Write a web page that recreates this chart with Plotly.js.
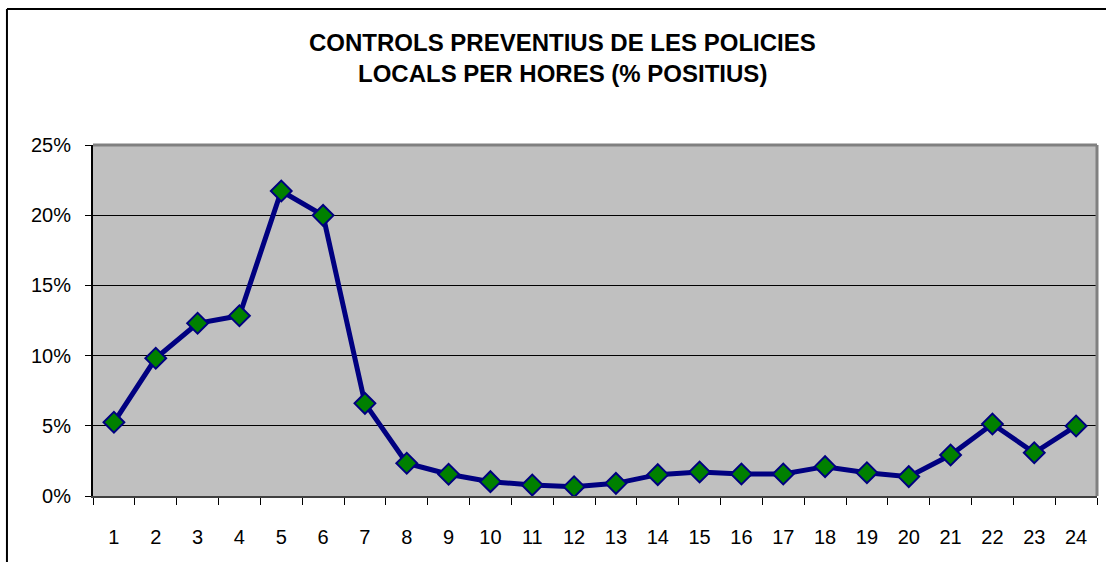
<!DOCTYPE html>
<html>
<head>
<meta charset="utf-8">
<script src="https://cdn.plot.ly/plotly-3.0.1.min.js"></script>
<style>
html,body{margin:0;padding:0;background:#fff;overflow:hidden;width:1106px;height:562px;}
#chart{width:1106px;height:562px;position:relative;}
</style>
</head>
<body>
<div id="chart"></div>
<script>
const hours = ["1","2","3","4","5","6","7","8","9","10","11","12","13","14","15","16","17","18","19","20","21","22","23","24"];
const positius = [0.0525,0.0981,0.1230,0.1284,0.2172,0.1999,0.0660,0.0233,0.0155,0.0102,0.0078,0.0066,0.0090,0.0152,0.0171,0.0157,0.0157,0.0209,0.0166,0.0138,0.0292,0.0513,0.0308,0.0499];
const titleLines = ["CONTROLS PREVENTIUS DE LES POLICIES","LOCALS PER HORES (% POSITIUS)"];
const yTicks = [0,0.05,0.10,0.15,0.20,0.25];

const trace = {
  x: hours, y: positius, type: 'scatter', mode: 'lines+markers',
  line: {color: '#000080', width: 5},
  marker: {symbol: 'diamond', size: 16, color: '#008000', line: {color: '#000080', width: 2}},
  hoverinfo: 'skip'
};

const font = 'Liberation Sans, Arial, sans-serif';
const layout = {
  width: 1106, height: 562,
  margin: {l: 93, r: 9, t: 145, b: 66},
  paper_bgcolor: '#fff',
  plot_bgcolor: '#c0c0c0',
  showlegend: false,
  font: {family: font, size: 20, color: '#000'},
  xaxis: {
    type: 'category', range: [-0.5, 23.5], tickson: 'boundaries',
    ticks: 'outside', ticklen: 7, tickwidth: 1, tickcolor: '#000',
    showline: true, linecolor: '#404040', linewidth: 2,
    showgrid: false, zeroline: false, fixedrange: true,
    ticklabelstandoff: 22,
    tickfont: {family: font, size: 20, color: '#000'}
  },
  yaxis: {
    range: [0, 0.25], tickvals: yTicks, tickformat: '.0%',
    ticks: 'outside', ticklen: 6, tickwidth: 1, tickcolor: '#000',
    showline: true, linecolor: '#000', linewidth: 2,
    showgrid: true, gridcolor: '#000', gridwidth: 1,
    zeroline: false, fixedrange: true,
    ticklabelstandoff: 10,
    tickfont: {family: font, size: 20, color: '#000'}
  },
  shapes: [
    {type: 'line', xref: 'paper', yref: 'paper', x0: 0, x1: 1, y0: 1, y1: 1, line: {color: '#808080', width: 3}},
    {type: 'line', xref: 'paper', yref: 'paper', x0: 1, x1: 1, y0: 0, y1: 1, line: {color: '#808080', width: 3}},
    {type: 'line', xref: 'paper', yref: 'paper', x0: -0.0857, x1: -0.0857, y0: -0.2, y1: 1.3875, line: {color: '#000', width: 2}},
    {type: 'line', xref: 'paper', yref: 'paper', x0: -0.0857, x1: 1.02, y0: 1.3875, y1: 1.3875, line: {color: '#000', width: 2}}
  ],
  annotations: [
    {text: '<b>' + titleLines[0] + '</b>', xref: 'paper', yref: 'paper', x: 0.468, y: 1.2906, xanchor: 'center', yanchor: 'middle', showarrow: false, font: {family: font, size: 24, color: '#000'}},
    {text: '<b>' + titleLines[1] + '</b>', xref: 'paper', yref: 'paper', x: 0.468, y: 1.2051, xanchor: 'center', yanchor: 'middle', showarrow: false, font: {family: font, size: 24, color: '#000'}}
  ]
};

Plotly.newPlot('chart', [trace], layout, {displayModeBar: false, staticPlot: true});
</script>
</body>
</html>
